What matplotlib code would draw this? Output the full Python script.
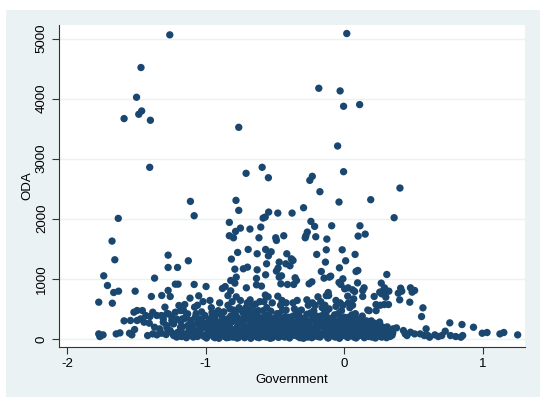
import numpy as np
import matplotlib.pyplot as plt
from matplotlib.patches import Rectangle

plt.rcParams['font.family'] = ['Liberation Sans', 'DejaVu Sans']
plt.rcParams['axes.unicode_minus'] = False

# larger aid values (upper part of the cloud)
gov_hi = [-1.26, 0.018, -1.468, -1.50, -1.484, -1.463, -1.59, -1.40, -1.405,
          -0.184, -0.030, -0.005, 0.111, -0.762, -0.048, -0.005, -0.709, -0.593,
          -0.548, -0.249, -0.231, -0.176, -0.038, 0.191, 0.402, 0.36, -1.111,
          -1.084, -1.632, -1.677, -1.657, -1.737, -1.71, -1.665, -1.63, -1.675,
          -1.773, -1.51, -1.59, -1.544, -1.514, -1.37, -1.393, -1.272, -1.272,
          -1.204, -1.126, -1.257, -1.318, -1.272, -1.22, -1.20, -1.084, -0.998,
          -1.114, -1.051]
oda_hi = [5061, 5083, 4517, 4022, 3739, 3794, 3667, 3639, 2856,
          4172, 4128, 3872, 3900, 3522, 3211, 2783, 2756, 2856,
          2683, 2639, 2706, 2450, 2278, 2317, 2511, 2017, 2289,
          2050, 2006, 1628, 1317, 1050, 889, 772, 794, 594,
          611, 794, 300, 306, 156, 1011, 706, 1394, 1189,
          1189, 1300, 706, 722, 806, 911, 911, 906, 872,
          678, 717]

# middle band, 700 - 2300
gov_mid = [-0.83, -0.782, -0.762, -0.75, -0.785, -0.83, -0.80, -0.681, -0.603,
           -0.616, -0.571, -0.586, -0.546, -0.48, -0.377, -0.495, -0.49, -0.437,
           -0.294, -0.241, -0.214, -0.267, -0.277, -0.282, -0.206, -0.091, -0.126,
           -0.015, -0.13, -0.199, -0.136, 0.01, 0.113, 0.10, 0.151, 0.078,
           -0.035, 0.098, 0.085, 0.307, 0.143, 0.096, -0.815, -0.77, -0.694,
           -0.629, -0.568, -0.548, -0.528, -0.561, -0.568, -0.629, -0.729, -0.699,
           -0.79, -0.78, -0.82, -0.79, -0.707, -0.634, -0.634, -0.598, -0.47,
           -0.415, -0.382, -0.37, -0.392, -0.422, -0.49, -0.478, -0.47, -0.453,
           -0.458, -0.355, -0.345, -0.41, -0.365, -0.254, -0.234, -0.166, -0.146,
           -0.108, -0.098, -0.116, -0.113, -0.038, -0.025, -0.01, 0.003, 0.028,
           0.06, 0.075, 0.025, 0.267, 0.29, 0.277, 0.30, 0.256, 0.27,
           0.322, 0.30, 0.289, 0.319, 0.216, 0.407, 0.415, 0.39, 0.478,
           0.508, 0.49, 0.40, 0.473, 0.568, 0.558, 0.133, 0.133, 0.068,
           0.229]
oda_mid = [1939, 2306, 2139, 1844, 1789, 1717, 1683, 1828, 1861,
           1683, 2028, 2011, 2111, 2094, 2094, 1683, 1639, 1717,
           2183, 1956, 1872, 1778, 1717, 1683, 1700, 1883, 1661,
           1483, 1483, 1406, 1278, 1300, 1883, 1711, 1744, 1406,
           1183, 1139, 1122, 1072, 850, 933, 1328, 1439, 1489,
           1417, 1489, 1383, 1450, 1250, 1067, 1150, 1167, 1194,
           1161, 1028, 972, 928, 850, 1006, 900, 878, 1278,
           1417, 1333, 1306, 1217, 1250, 1128, 1178, 1028, 1050,
           917, 1017, 972, 906, 906, 917, 950, 1122, 1011,
           1028, 1044, 772, 722, 939, 906, 1000, 833, 850,
           817, 789, 711, 928, 850, 794, 806, 778, 750,
           794, 694, 572, 572, 706, 844, 794, 761, 850,
           806, 778, 650, 611, 517, 372, 806, 706, 667,
           572]

# lower left group
gov_left = [-1.773, -1.758, -1.742, -1.765, -1.647, -1.62, -1.551, -1.534, -1.519,
            -1.496, -1.458, -1.433, -1.403, -1.383, -1.353, -1.408, -1.32, -1.307,
            -1.295, -1.27, -1.245, -1.22, -1.194, -1.182, -1.152, -1.131, -1.081,
            -1.076, -1.42, -1.383, -1.353, -1.32, -1.287, -1.257, -1.232, -1.202,
            -1.174, -1.144, -1.111, -1.081, -1.043, -1.011, -1.37, -1.333, -1.282,
            -1.232, -1.182, -1.131, -1.094, -1.056, -1.018, -1.307, -1.245, -1.169,
            -1.106, -1.043, -1.006, -1.496, -1.471, -1.446, -1.19, -1.17, -1.15,
            -1.13, -1.11, -1.09, -1.07, -1.05, -1.03, -1.01, -1.16, -1.06,
            -1.02, -1.12]
oda_left = [83, 56, 67, 39, 83, 100, 94, 67, 444,
            472, 472, 389, 372, 444, 389, 261, 389, 278,
            528, 417, 361, 444, 556, 472, 572, 417, 528,
            361, 56, 83, 67, 94, 72, 139, 56, 111,
            39, 83, 56, 111, 67, 39, 194, 167, 222,
            250, 194, 222, 167, 250, 194, 333, 306, 333,
            306, 333, 389, 306, 333, 278, 50, 200, 340,
            90, 260, 30, 420, 150, 300, 60, 470, 560,
            620, 150]

# dense core between -1 and 0.35
gov_core = [-0.99, -0.98, -0.97, -0.96, -0.95, -0.94, -0.93, -0.92, -0.91, -0.90, -0.97, -0.93, -0.95, -1.0, -0.91,
            -0.89, -0.88, -0.87, -0.86, -0.85, -0.84, -0.83, -0.82, -0.81, -0.80, -0.88, -0.86, -0.84, -0.82, -0.89, -0.85, -0.81,
            -0.79, -0.78, -0.77, -0.76, -0.75, -0.74, -0.73, -0.72, -0.71, -0.70, -0.78, -0.75, -0.72, -0.79, -0.76, -0.71,
            -0.69, -0.68, -0.67, -0.66, -0.65, -0.64, -0.63, -0.62, -0.61, -0.60, -0.68, -0.64, -0.61, -0.66, -0.62, -0.69,
            -0.59, -0.58, -0.57, -0.56, -0.55, -0.54, -0.53, -0.52, -0.51, -0.50, -0.57, -0.55, -0.52, -0.58, -0.53, -0.56,
            -0.49, -0.48, -0.47, -0.46, -0.45, -0.44, -0.43, -0.42, -0.41, -0.40, -0.48, -0.45, -0.42, -0.47, -0.43,
            -0.39, -0.38, -0.37, -0.36, -0.35, -0.34, -0.33, -0.32, -0.31, -0.30, -0.37, -0.34, -0.31, -0.38,
            -0.29, -0.28, -0.27, -0.26, -0.25, -0.24, -0.23, -0.22, -0.21, -0.20, -0.27, -0.23, -0.21, -0.26,
            -0.19, -0.18, -0.17, -0.16, -0.15, -0.14, -0.13, -0.12, -0.11, -0.10, -0.17, -0.14, -0.11, -0.19, -0.13,
            -0.09, -0.08, -0.07, -0.06, -0.05, -0.04, -0.03, -0.02, -0.01, 0.0, -0.06, -0.03, -0.08, -0.01,
            0.01, 0.02, 0.03, 0.04, 0.05, 0.06, 0.07, 0.08, 0.09, 0.10, 0.03, 0.06, 0.09, 0.07,
            0.11, 0.12, 0.13, 0.14, 0.15, 0.16, 0.17, 0.18, 0.19, 0.20, 0.13, 0.18,
            0.21, 0.22, 0.24, 0.25, 0.27, 0.28, 0.30, 0.31, 0.33, 0.35, 0.23, 0.26]
oda_core = [45, 160, 330, 520, 90, 260, 410, 30, 190, 600, 640, 120, 380, 250, 470,
            70, 300, 450, 150, 20, 560, 230, 380, 100, 480, 840, 870, 720, 800, 200, 320, 620,
            50, 180, 350, 520, 90, 280, 430, 20, 200, 600, 700, 640, 360, 450, 130, 520,
            60, 240, 400, 550, 120, 310, 30, 470, 180, 350, 650, 580, 620, 220, 90, 480,
            40, 210, 390, 520, 100, 300, 460, 20, 170, 350, 730, 700, 600, 620, 250, 80,
            70, 260, 420, 560, 130, 320, 30, 480, 190, 360, 710, 640, 600, 100, 230,
            50, 220, 380, 500, 110, 290, 460, 20, 170, 330, 600, 640, 480, 120,
            60, 240, 410, 560, 130, 310, 30, 470, 190, 380, 650, 600, 560, 100,
            40, 210, 380, 520, 90, 290, 450, 20, 180, 340, 620, 560, 500, 700, 720,
            60, 230, 400, 540, 120, 300, 30, 470, 190, 360, 640, 600, 90, 560,
            50, 200, 360, 520, 90, 280, 30, 420, 150, 250, 600, 560, 100, 340,
            60, 230, 380, 40, 150, 300, 480, 90, 200, 30, 120, 470,
            100, 260, 60, 180, 30, 120, 70, 200, 40, 100, 470, 560]

# second pass over the core, filling the solid block under 500
gov_core2 = [-1.28, -1.28, -1.24, -1.24, -1.21, -1.21, -1.18, -1.18, -1.14, -1.14,
             -1.10, -1.10, -1.06, -1.06, -1.03, -1.03, -0.985, -0.985, -0.955, -0.955,
             -0.935, -0.935, -0.915, -0.915, -0.885, -0.885, -0.865, -0.865, -0.845, -0.845,
             -0.825, -0.825, -0.805, -0.805, -0.785, -0.785, -0.765, -0.765, -0.745, -0.745,
             -0.725, -0.725, -0.705, -0.705, -0.685, -0.685, -0.665, -0.665, -0.645, -0.645,
             -0.625, -0.625, -0.605, -0.605, -0.585, -0.585, -0.565, -0.565, -0.545, -0.545,
             -0.525, -0.525, -0.505, -0.505, -0.485, -0.485, -0.465, -0.465, -0.445, -0.445,
             -0.425, -0.425, -0.405, -0.405, -0.385, -0.385, -0.365, -0.365, -0.345, -0.345,
             -0.325, -0.325, -0.305, -0.305, -0.285, -0.285, -0.265, -0.265, -0.245, -0.245,
             -0.225, -0.225, -0.205, -0.205, -0.185, -0.185, -0.165, -0.165, -0.145, -0.145,
             -0.125, -0.125, -0.105, -0.105, -0.085, -0.085, -0.065, -0.065, -0.045, -0.045,
             -0.025, -0.025, -0.005, -0.005, 0.015, 0.015, 0.035, 0.035, 0.055, 0.055,
             0.075, 0.075, 0.095, 0.095, 0.115, 0.115, 0.135, 0.135, 0.155, 0.155,
             0.175, 0.175, 0.195, 0.195, 0.215, 0.215, 0.235, 0.235, 0.255, 0.255,
             0.275, 0.275]
oda_core2 = [180, 420, 90, 260, 30, 330, 140, 290, 20, 380,
             200, 90, 40, 260, 170, 450, 280, 100, 200, 440,
             20, 330, 280, 80, 130, 380, 250, 40, 90, 330,
             170, 500, 290, 30, 120, 400, 250, 20, 200, 480,
             90, 300, 150, 420, 170, 330, 40, 280, 220, 450,
             130, 380, 270, 60, 140, 470, 280, 30, 200, 400,
             110, 330, 260, 50, 190, 420, 330, 40, 230, 480,
             150, 370, 280, 80, 330, 180, 60, 240, 200, 420,
             120, 380, 250, 60, 150, 340, 280, 30, 200, 430,
             120, 360, 260, 50, 320, 110, 60, 240, 190, 420,
             120, 360, 250, 50, 160, 340, 280, 30, 210, 420,
             120, 350, 260, 60, 130, 300, 220, 60, 180, 400,
             110, 250, 330, 40, 160, 320, 240, 60, 90, 230,
             200, 40, 120, 300, 60, 210, 150, 40, 90, 280,
             200, 60]

# bottom strip, small amounts
gov_low = [-0.995, -0.965, -0.945, -0.925, -0.905, -0.875, -0.855, -0.835, -0.815, -0.795,
           -0.775, -0.755, -0.735, -0.715, -0.695, -0.675, -0.655, -0.635, -0.615, -0.595,
           -0.575, -0.555, -0.535, -0.515, -0.495, -0.475, -0.455, -0.435, -0.415, -0.395,
           -0.375, -0.355, -0.335, -0.315, -0.295, -0.275, -0.255, -0.235, -0.215, -0.195,
           -0.175, -0.155, -0.135, -0.115, -0.095, -0.075, -0.055, -0.035, -0.015, 0.005,
           0.025, 0.045, 0.065, 0.085, 0.105, 0.125, 0.145, 0.165, 0.185, 0.205,
           0.225, 0.245, 0.265, 0.285, 0.305, 0.325, 0.345]
oda_low = [15, 95, 40, 130, 10, 70, 140, 25, 85, 120,
           15, 60, 140, 35, 105, 10, 75, 150, 20, 90,
           45, 130, 10, 70, 140, 25, 95, 50, 120, 15,
           80, 145, 40, 100, 10, 65, 135, 20, 90, 130,
           30, 75, 140, 15, 100, 45, 130, 10, 80, 140,
           25, 100, 60, 15, 130, 80, 20, 110, 50, 130,
           15, 90, 40, 150, 20, 100, 60]

# right tail, better governed countries
gov_right = [0.762, 0.85, 0.933, 0.996, 1.031, 1.124, 1.152, 1.252, 0.729,
             0.654, 0.679, 0.704, 0.591, 0.548, 0.578, 0.767, 0.805, 0.855,
             0.842, 0.616, 0.604, 0.508, 0.478, 0.453, 0.427, 0.44, 0.352,
             0.377, 0.327, 0.302, 0.277, 0.251]
oda_right = [267, 239, 194, 94, 106, 83, 106, 67, 128,
             67, 39, 56, 167, 83, 56, 56, 39, 56,
             28, 28, 56, 83, 111, 56, 139, 83, 167,
             183, 56, 83, 39, 67]

government = np.array(gov_hi + gov_mid + gov_left + gov_core + gov_core2 + gov_low + gov_right)
oda = np.array(oda_hi + oda_mid + oda_left + oda_core + oda_core2 + oda_low + oda_right)

fig = plt.figure(figsize=(5.45, 3.97), dpi=100)
fig.patch.set_facecolor('white')
fig.patches.append(Rectangle((6 / 545, 0), 534 / 545, 387 / 397,
                             transform=fig.transFigure, facecolor='#eaf2f3',
                             edgecolor='none', zorder=-1))

ax = fig.add_axes([59 / 545, 50 / 397, 466 / 545, 322 / 397])
ax.set_zorder(1)
ax.set_facecolor('white')
ax.scatter(government, oda, s=28, color='#1a476f', edgecolors='none', zorder=3)

ax.set_xlim(-2.06, 1.305)
ax.set_ylim(-135, 5225)
ax.set_xticks([-2, -1, 0, 1])
ax.set_yticks([0, 1000, 2000, 3000, 4000, 5000])
ax.grid(axis='y', color='#eaf2f3', linewidth=1.0, zorder=0)
ax.set_axisbelow(True)

for s in ['top', 'right']:
    ax.spines[s].set_visible(False)
for s in ['left', 'bottom']:
    ax.spines[s].set_color('#333333')
    ax.spines[s].set_linewidth(0.8)
ax.tick_params(axis='both', length=5, width=0.8, color='#333333', labelsize=9.5, pad=3)
for lbl in ax.get_yticklabels():
    lbl.set_rotation(90)
    lbl.set_va('center')

ax.set_xlabel('Government', fontsize=9.5, labelpad=3)
ax.set_ylabel('ODA', fontsize=9.5)
ax.yaxis.set_label_coords(-0.056, 0.5)

fig.savefig('out.png', dpi=100)
